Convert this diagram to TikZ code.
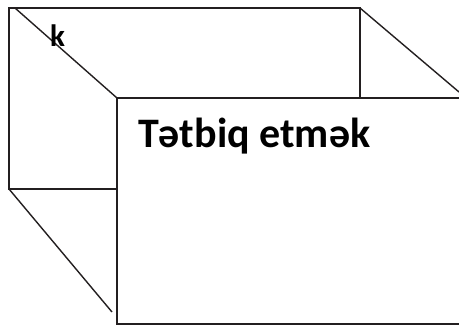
\documentclass[tikz,border=0pt]{standalone}
\usepackage{fontspec}
\setmainfont{Carlito}[BoldFont={Carlito Bold}]
\definecolor{boxline}{HTML}{231F20}
\tikzset{
  bline/.style={boxline,line width=1.4pt},
  bface/.style={bline,fill=white},
  blabel/.style={inner sep=0pt,anchor=base west,text=black}
}
\newcommand{\boxcoords}{\foreach \cn/\cx/\cy in {b1/9/8,b2/360/8,b3/9/189,d1/15/8,f1/117/98,f2/480/98,f3/117/324,f4/480/324,e1/459/92,e2/112/312}{\coordinate (\cn) at (\cx,\cy);}}

\begin{document}
\begin{tikzpicture}[x=1pt,y=-1pt]
\useasboundingbox (0,0) rectangle (459,327);
\clip (0,0) rectangle (459,327);
\boxcoords
\draw[bline] (b1) rectangle (b2 |- b3);
\draw[bline] (d1)--(f1);
\draw[bline] (b2)--(e1);
\draw[bline] (b3)--(e2);
\draw[bface] (f1) rectangle (f4);
\node[blabel,font=\bfseries\fontsize{31}{36}\selectfont] (lk) at (50,46) {k};
\node[blabel,font=\bfseries\fontsize{42}{50}\selectfont] (lt) at (138,147) {Tətbiq etmək};
\end{tikzpicture}
\end{document}
